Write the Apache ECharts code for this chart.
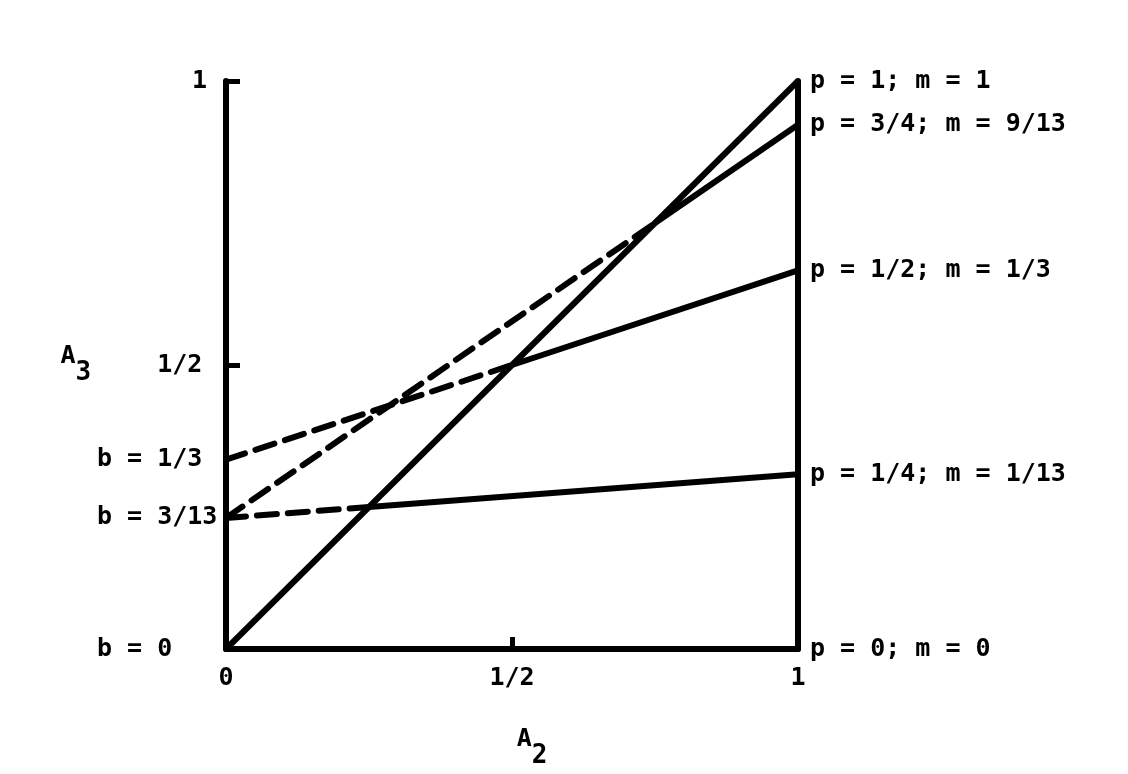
<!DOCTYPE html>
<html>
<head>
    <meta charset="utf-8">
    <script type="text/javascript" src="https://cdn.jsdelivr.net/npm/echarts@6/dist/echarts.min.js"></script>
    <style type="text/css">
        * {
            margin: 0;
            padding: 0;
        }
        body {
            background: #ffffff;
        }
        #container {
            width: 1128px;
            height: 774px;
        }
    </style>
</head>
<body>
<div id="container"></div>

<script type="text/javascript">

    //x轴刻度
    var xTicks = [0, 1 / 2, 1];
    var xTickLabels = ['0', '1/2', '1'];
    //左侧y轴刻度 (截距 b)
    var leftTicks = [0, 3 / 13, 1 / 3, 1 / 2, 1];
    var leftTickLabels = ['b = 0', 'b = 3/13', 'b = 1/3', '    1/2', '1'];
    //右侧标注 (直线在 A2 = 1 处的值)
    var rightTicks = [0, 4 / 13, 2 / 3, 12 / 13, 1];
    var rightTickLabels = ['p = 0; m = 0', 'p = 1/4; m = 1/13', 'p = 1/2; m = 1/3', 'p = 3/4; m = 9/13', 'p = 1; m = 1'];

    //各条直线 [A2, A3]
    var lineP1 = [[0, 0], [1, 1]];
    var dashP34 = [[0, 3 / 13], [3 / 4, 3 / 4]];
    var solidP34 = [[3 / 4, 3 / 4], [1, 12 / 13]];
    var dashP12 = [[0, 1 / 3], [1 / 2, 1 / 2]];
    var solidP12 = [[1 / 2, 1 / 2], [1, 2 / 3]];
    var dashP14 = [[0, 3 / 13], [1 / 4, 1 / 4]];
    var solidP14 = [[1 / 4, 1 / 4], [1, 4 / 13]];

    var font = '"DejaVu Sans Mono", monospace';
    var ink = '#000000';
    var fs = 25;

    //按刻度值找标签
    function pick(values, labels, v) {
        for (var i = 0; i < values.length; i++) {
            if (Math.abs(values[i] - v) < 1e-6) {
                return labels[i];
            }
        }
        return '';
    }

    function makeLine(data, dashed) {
        return {
            type: 'line',
            data: data,
            symbol: 'none',
            clip: false,
            silent: true,
            lineStyle: {
                color: ink,
                width: 6,
                type: dashed ? [20, 11] : 'solid',
                cap: dashed ? 'round' : 'butt'
            }
        };
    }

    //A2 / A3 轴名，下标与正文同大小
    var nameRich = {
        a: {fontFamily: font, fontWeight: 'bold', fontSize: 25, color: ink, verticalAlign: 'top'},
        s: {fontFamily: font, fontWeight: 'bold', fontSize: 26, color: ink, padding: [16, 0, 0, 0]}
    };

    var dom = document.getElementById('container');
    var myChart = echarts.init(dom);
    var option = {
        backgroundColor: '#ffffff',
        animation: false,
        grid: {
            left: 226,
            right: 330,
            top: 81,
            bottom: 115
        },
        xAxis: {
            type: 'value',
            min: 0,
            max: 1,
            splitLine: {show: false},
            axisLine: {
                lineStyle: {color: ink, width: 6}
            },
            axisTick: {
                show: true,
                inside: true,
                length: 12,
                customValues: [1 / 2],
                lineStyle: {color: ink, width: 5}
            },
            axisLabel: {
                customValues: xTicks,
                margin: 17,
                color: ink,
                fontFamily: font,
                fontWeight: 'bold',
                fontSize: fs,
                formatter: function (v) {
                    return pick(xTicks, xTickLabels, v);
                }
            },
            name: '{a|A}{s|2}',
            nameLocation: 'middle',
            nameGap: 78,
            nameTextStyle: {
                padding: [0, 0, 0, 40],
                rich: nameRich
            }
        },
        yAxis: [
            {
                type: 'value',
                min: 0,
                max: 1,
                splitLine: {show: false},
                axisLine: {
                    lineStyle: {color: ink, width: 6}
                },
                axisTick: {
                    show: true,
                    inside: true,
                    length: 14,
                    customValues: [1 / 2, 1],
                    lineStyle: {color: ink, width: 5}
                },
                axisLabel: {
                    customValues: leftTicks,
                    align: 'left',
                    margin: 129,
                    color: ink,
                    fontFamily: font,
                    fontWeight: 'bold',
                    fontSize: fs,
                    formatter: function (v) {
                        var t = pick(leftTicks, leftTickLabels, v);
                        if (t === '1') {
                            return '{one|1}';
                        }
                        return t;
                    },
                    rich: {
                        one: {fontFamily: font, fontWeight: 'bold', fontSize: fs, color: ink, padding: [0, 0, 0, 95]}
                    }
                },
                name: '{a|A}{s|3}',
                nameLocation: 'middle',
                nameRotate: 0,
                nameGap: 123,
                nameTextStyle: {
                    rich: nameRich
                }
            },
            {
                type: 'value',
                position: 'right',
                min: 0,
                max: 1,
                splitLine: {show: false},
                axisLine: {
                    show: true,
                    onZero: false,
                    lineStyle: {color: ink, width: 6}
                },
                axisTick: {show: false},
                axisLabel: {
                    customValues: rightTicks,
                    margin: 12,
                    color: ink,
                    fontFamily: font,
                    fontWeight: 'bold',
                    fontSize: fs,
                    formatter: function (v) {
                        return pick(rightTicks, rightTickLabels, v);
                    }
                }
            }
        ],
        series: [
            makeLine(lineP1, false),
            makeLine(dashP34, true),
            makeLine(solidP34, false),
            makeLine(dashP12, true),
            makeLine(solidP12, false),
            makeLine(dashP14, true),
            makeLine(solidP14, false)
        ]
    };
    myChart.setOption(option, true);

</script>
</body>
</html>
